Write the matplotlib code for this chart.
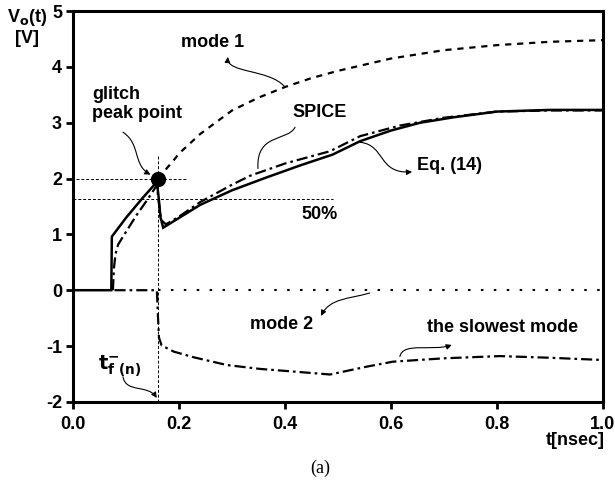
import matplotlib
matplotlib.use("Agg")
import matplotlib.pyplot as plt
from matplotlib.path import Path
from matplotlib.patches import FancyArrowPatch

plt.rcParams.update({
    "font.family": "Liberation Sans",
    "font.weight": "bold",
    "font.size": 13,
    "axes.unicode_minus": False,
})

# Eq. (14) output voltage
t_eq = [0, 0.072, 0.073, 0.100, 0.130, 0.158, 0.161, 0.165, 0.170, 0.24, 0.30,
        0.365, 0.43, 0.49, 0.542, 0.60, 0.655, 0.72, 0.80, 0.90, 1.0]
v_eq = [0, 0, 0.96, 1.30, 1.64, 1.94, 1.70, 1.30, 1.12, 1.53, 1.79,
        2.02, 2.24, 2.43, 2.67, 2.86, 3.00, 3.10, 3.20, 3.23, 3.23]

# SPICE
t_sp = [0.075, 0.077, 0.080, 0.085, 0.10, 0.12, 0.14, 0.158, 0.162, 0.166, 0.175,
        0.20, 0.24, 0.30, 0.334, 0.40, 0.485, 0.542, 0.617, 0.70, 0.80, 0.90, 1.0]
v_sp = [0.0, 0.40, 0.65, 0.82, 1.05, 1.35, 1.62, 1.88, 1.55, 1.26, 1.18,
        1.32, 1.58, 1.89, 2.05, 2.27, 2.49, 2.76, 2.95, 3.09, 3.20, 3.22, 3.22]

# mode 1
t_m1 = [0.16, 0.19, 0.20, 0.24, 0.30, 0.35, 0.40, 0.45, 0.50, 0.60, 0.70, 0.80, 0.90, 1.0]
v_m1 = [2.0, 2.33, 2.45, 2.80, 3.22, 3.45, 3.64, 3.80, 3.93, 4.15, 4.30, 4.39, 4.45, 4.48]

# mode 2
t_m2 = [0.16, 1.0]
v_m2 = [0.0, 0.0]

# the slowest mode
t_sl = [0.078, 0.158, 0.160, 0.162, 0.167, 0.19, 0.227, 0.29, 0.353, 0.42, 0.485,
        0.554, 0.604, 0.70, 0.806, 0.90, 1.0]
v_sl = [0.0, 0.0, -0.45, -0.85, -0.99, -1.10, -1.20, -1.34, -1.41, -1.46, -1.51,
        -1.37, -1.28, -1.22, -1.18, -1.21, -1.25]

PEAK_T, PEAK_V = 0.16, 2.0
HALF_V = 1.63

fig = plt.figure(figsize=(6.15, 4.83), dpi=100)
ax = fig.add_axes([0.119, 0.168, 0.861, 0.809])

ax.plot(t_eq, v_eq, color="black", lw=1.8, solid_joinstyle="miter")
ax.plot(t_sp, v_sp, color="black", lw=1.6, dashes=(5, 1.8, 1.2, 1.8))
ax.plot(t_m1, v_m1, color="black", lw=1.6, dashes=(2.8, 2.6))
ax.plot(t_m2, v_m2, color="black", lw=1.5, dashes=(1.2, 5))
ax.plot(t_sl, v_sl, color="black", lw=1.6, dashes=(5, 1.8, 1.2, 1.8))

# guide lines
guide = dict(color="black", lw=0.7, dashes=(3, 2))
ax.plot([0.005, 0.215], [PEAK_V, PEAK_V], **guide)
ax.plot([0.0, 0.49], [HALF_V, HALF_V], **guide)
ax.plot([PEAK_T, PEAK_T], [-2, 2.42], **guide)
ax.plot([PEAK_T], [PEAK_V], "o", color="black", ms=10, zorder=5)

ax.set_xlim(0, 1.0)
ax.set_ylim(-2, 5)
ax.set_xticks([0.0, 0.2, 0.4, 0.6, 0.8, 1.0])
ax.set_xticklabels(["0.0", "0.2", "0.4", "0.6", "0.8", "1.0"])
ax.set_yticks(range(-2, 6))
for s in ax.spines.values():
    s.set_linewidth(2.2)
ax.tick_params(direction="out", length=5, width=2, pad=3, labelsize=13)
ax.tick_params(axis="x", pad=5)
for lab in ax.get_xticklabels() + ax.get_yticklabels():
    lab.set_fontweight("bold")


def wavy(p0, c1, c2, p1, head=True):
    path = Path([p0, c1, c2, p1], [Path.MOVETO, Path.CURVE4, Path.CURVE4, Path.CURVE4])
    a = FancyArrowPatch(path=path, arrowstyle="-|>" if head else "-",
                        mutation_scale=8, color="black", lw=0.8)
    ax.add_patch(a)


ax.text(0.264, 4.43, "mode 1", ha="center", va="center")
wavy((0.40, 3.64), (0.37, 3.97), (0.29, 3.88), (0.292, 4.18))

ax.text(0.036, 3.34, "glitch\npeak point", ha="left", va="center", linespacing=1.15)
wavy((0.094, 2.83), (0.128, 2.62), (0.112, 2.25), (0.146, 2.07))

ax.text(0.466, 3.19, "SPICE", ha="center", va="center")
wavy((0.419, 2.92), (0.405, 2.66), (0.345, 2.82), (0.349, 2.18), head=False)

ax.text(0.649, 2.24, "Eq. (14)", ha="left", va="center")
wavy((0.542, 2.65), (0.59, 2.6), (0.575, 2.08), (0.64, 2.12))

ax.text(0.432, 1.35, "50%", ha="left", va="center")

ax.text(0.334, -0.62, "mode 2", ha="left", va="center")
wavy((0.560, -0.05), (0.52, -0.16), (0.485, -0.14), (0.468, -0.46))

ax.text(0.811, -0.675, "the slowest mode", ha="center", va="center")
wavy((0.617, -1.19), (0.622, -0.92), (0.68, -1.10), (0.715, -0.98))

ax.text(0.047, -1.36, r"$\mathbf{t}_{\mathbf{f\ (n)}}^{-}$", ha="left", va="center", fontsize=14)
wavy((0.094, -1.55), (0.100, -1.85), (0.14, -1.68), (0.158, -1.93))

fig.text(0.044, 0.944, "V$_\\mathbf{o}$(t)\n[V]", ha="center", va="center", linespacing=1.2)
fig.text(0.984, 0.089, "t[nsec]", ha="right", va="center")
fig.text(0.52, 0.031, "(a)", ha="center", va="center", family="Liberation Serif",
         fontweight="normal", fontsize=13)

fig.savefig("out.png", dpi=100)
